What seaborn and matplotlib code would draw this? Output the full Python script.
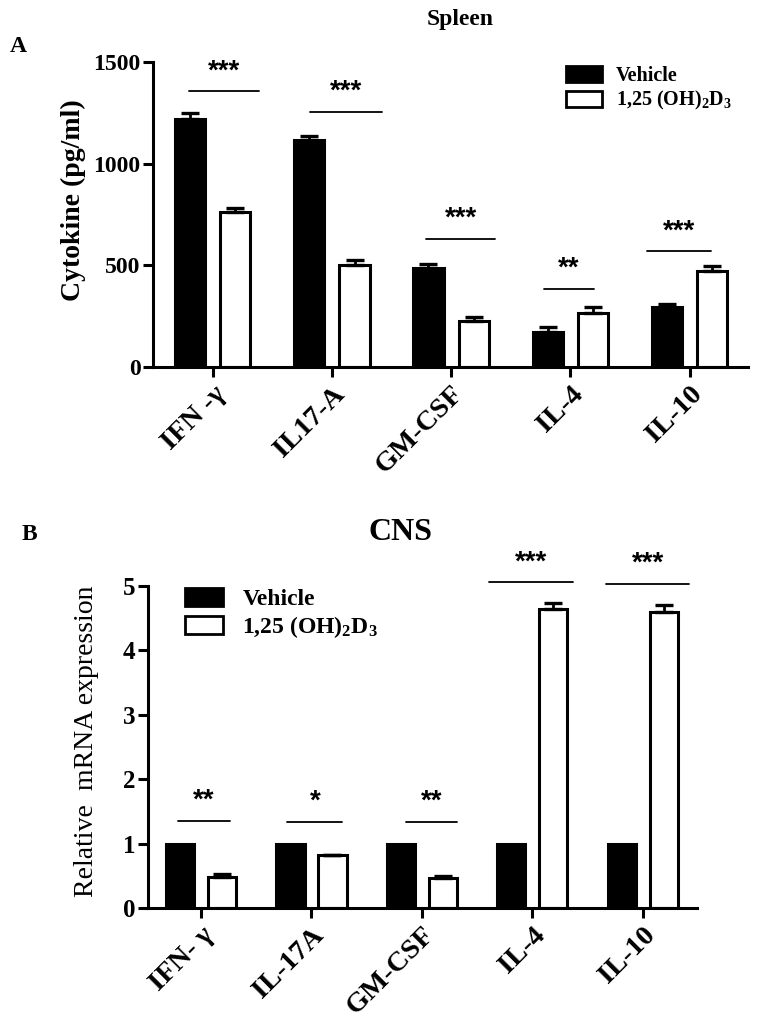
import numpy as np
import pandas as pd
import matplotlib
matplotlib.use("Agg")
import matplotlib.pyplot as plt
from matplotlib.patches import Patch
import seaborn as sns

# panel A - spleen cytokines (pg/ml)
cyto_a = ["IFN -γ", "IL17-A", "GM-CSF", "IL-4", "IL-10"]
veh_a = [1222, 1116, 488, 170, 293]
veh_a_err = [25, 22, 20, 25, 16]
d3_a = [760, 502, 224, 268, 470]
d3_a_err = [22, 25, 22, 25, 25]
sig_a = ["***", "***", "***", "**", "***"]
sig_a_y = [1355, 1255, 630, 385, 570]
sig_a_x0 = [-0.2, -0.18, -0.21, -0.22, -0.36]
sig_a_x1 = [0.39, 0.42, 0.37, 0.2, 0.18]

# panel B - CNS relative mRNA
cyto_b = ["IFN- γ", "IL-17A", "GM-CSF", "IL-4", "IL-10"]
veh_b = [1, 1, 1, 1, 1]
veh_b_err = [0, 0, 0, 0, 0]
d3_b = [0.48, 0.82, 0.46, 4.65, 4.59]
d3_b_err = [0.05, 0.01, 0.04, 0.09, 0.12]
sig_b = ["**", "*", "**", "***", "***"]
sig_b_y = [1.35, 1.34, 1.34, 5.06, 5.03]
sig_b_x0 = [-0.21, -0.22, -0.14, -0.39, -0.33]
sig_b_x1 = [0.26, 0.28, 0.32, 0.37, 0.42]

groups = ["Vehicle", "1,25 (OH)$_2$D$_3$"]

sns.set_style("ticks")
plt.rcParams["font.family"] = ["Liberation Serif", "DejaVu Serif"]
plt.rcParams["font.weight"] = "bold"
plt.rcParams["mathtext.fontset"] = "custom"
plt.rcParams["mathtext.rm"] = "Liberation Serif:bold"
plt.rcParams["mathtext.it"] = "Liberation Serif:italic:bold"
plt.rcParams["mathtext.bf"] = "Liberation Serif:bold"
for k in ["text.color", "axes.labelcolor", "xtick.color", "ytick.color", "axes.edgecolor"]:
    plt.rcParams[k] = "black"


def make_df(cats, veh, d3):
    return pd.DataFrame({
        "cytokine": cats * 2,
        "group": [groups[0]] * len(cats) + [groups[1]] * len(cats),
        "value": list(veh) + list(d3),
    })


def draw_panel(ax, cats, veh, veh_err, d3, d3_err, sig, sig_y, x0s, x1s, star_size):
    df = make_df(cats, veh, d3)
    sns.barplot(data=df, x="cytokine", y="value", hue="group", palette=["black", "white"],
                edgecolor="black", linewidth=2.2, width=0.76, gap=0.33, errorbar=None,
                legend=False, ax=ax)
    for cont, errs in zip(ax.containers, [veh_err, d3_err]):
        for bar, e in zip(cont, errs):
            if e <= 0:
                continue
            xc = bar.get_x() + bar.get_width() / 2
            ax.errorbar(xc, bar.get_height(), yerr=[[0], [e]], fmt="none", ecolor="black",
                        capsize=6.5, elinewidth=2, capthick=2.4, zorder=5)
    for i, (s, y, a, b) in enumerate(zip(sig, sig_y, x0s, x1s)):
        ax.plot([i + a, i + b], [y, y], color="black", lw=1.3, clip_on=False)
        ax.annotate(s, xy=(i + (a + b) / 2, y), xytext=(0, 5), textcoords="offset points",
                    ha="center", va="bottom", fontsize=star_size, fontweight="bold",
                    family="Liberation Sans", annotation_clip=False)
    sns.despine(ax=ax)
    for sp in ["left", "bottom"]:
        ax.spines[sp].set_linewidth(2.2)
    ax.tick_params(axis="both", direction="out", length=7, width=2.2)
    ax.tick_params(axis="y", pad=2)
    ax.set_xlabel("")


def style_ticks(ax, ysize, xsize):
    for lab in ax.get_yticklabels():
        lab.set_fontsize(ysize)
        lab.set_fontweight("bold")
    for lab in ax.get_xticklabels():
        lab.set_fontsize(xsize)
        lab.set_fontweight("bold")
        lab.set_rotation(45)
        lab.set_ha("right")
        lab.set_rotation_mode("anchor")


fig = plt.figure(figsize=(7.6, 10.3), dpi=100)

ax_a = fig.add_axes([153 / 760, 1 - 367 / 1030, 595 / 760, 305 / 1030])
draw_panel(ax_a, cyto_a, veh_a, veh_a_err, d3_a, d3_a_err, sig_a, sig_a_y, sig_a_x0, sig_a_x1, 20)
ax_a.set_ylim(0, 1500)
ax_a.set_yticks([0, 500, 1000, 1500])
ax_a.set_xlim(-0.5, 4.49)
ax_a.set_ylabel("Cytokine (pg/ml)", fontsize=20, fontweight="bold")
ax_a.yaxis.set_label_coords(-0.112, 0.548)
style_ticks(ax_a, 17, 20.5)
handles = [Patch(facecolor="black", edgecolor="black", lw=2), Patch(facecolor="white", edgecolor="black", lw=2)]
ax_a.legend(handles, groups, loc="upper left", bbox_to_anchor=(0.678, 1.02), frameon=False,
            prop={"size": 14.5, "weight": "bold"}, handlelength=1.75, handleheight=0.85,
            handletextpad=0.7, labelspacing=0.15, borderpad=0)

ax_b = fig.add_axes([148 / 760, 1 - 908 / 1030, 549 / 760, 322 / 1030])
draw_panel(ax_b, cyto_b, veh_b, veh_b_err, d3_b, d3_b_err, sig_b, sig_b_y, sig_b_x0, sig_b_x1, 20)
ax_b.set_ylim(0, 5)
ax_b.set_yticks([0, 1, 2, 3, 4, 5])
ax_b.set_xlim(-0.48, 4.49)
ax_b.set_ylabel("Relative  mRNA expression", fontsize=20, fontweight="normal")
ax_b.yaxis.set_label_coords(-0.09, 0.519)
style_ticks(ax_b, 18, 20.5)
ax_b.legend(handles, groups, loc="upper left", bbox_to_anchor=(0.045, 1.03), frameon=False,
            prop={"size": 17, "weight": "bold"}, handlelength=1.65, handleheight=0.8,
            handletextpad=0.8, labelspacing=0.15, borderpad=0)

fig.text(10 / 760, 1 - 52 / 1030, "A", fontsize=17, fontweight="bold")
fig.text(460 / 760, 1 - 25 / 1030, "Spleen", fontsize=17, fontweight="bold", ha="center")
fig.text(22 / 760, 1 - 540 / 1030, "B", fontsize=17, fontweight="bold")
fig.text(400 / 760, 1 - 540 / 1030, "CNS", fontsize=23, fontweight="bold", ha="center")

fig.savefig("out.png", dpi=100)
